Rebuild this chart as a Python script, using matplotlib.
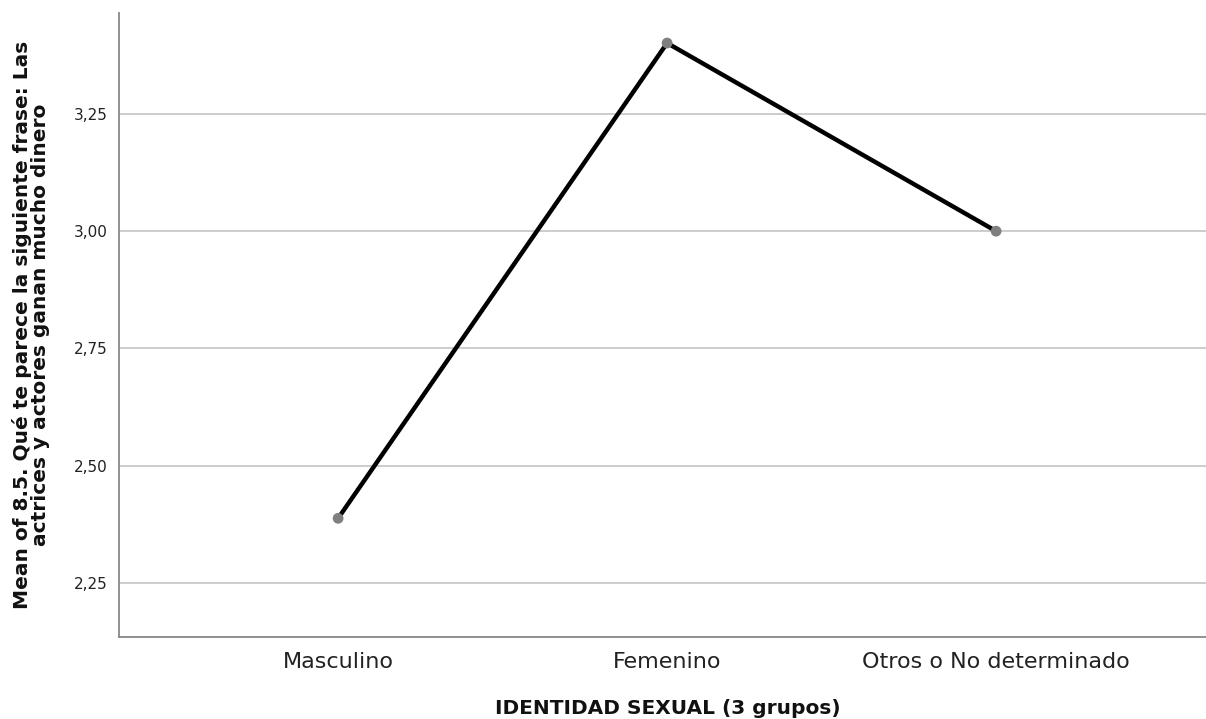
import matplotlib
matplotlib.use("Agg")
import matplotlib.pyplot as plt

categories = ["Masculino", "Femenino", "Otros o No determinado"]
means = [2.388, 3.401, 3.00]
yticks = [2.25, 2.50, 2.75, 3.00, 3.25]
ytick_labels = ["2,25", "2,50", "2,75", "3,00", "3,25"]

plt.rcParams['font.family'] = ['DejaVu Sans']

fig = plt.figure(figsize=(12.06, 7.19), dpi=100)
W, H = 1206, 719
left, right, top, bottom = 119, 1206, 13, 637
ax = fig.add_axes([left / W, 1 - bottom / H, (right - left) / W, (bottom - top) / H])

x = list(range(len(categories)))
ax.plot(x, means, color="black", lw=3.2, zorder=3, solid_capstyle="round")
ax.scatter(x, means, s=60, color="#7f7f7f", zorder=4, edgecolors="none")

ax.set_xlim(-0.666, 2.638)
ax.set_ylim(2.135, 3.465)
ax.set_yticks(yticks)
ax.set_yticklabels(ytick_labels, fontsize=11, color="#222222")
ax.set_xticks(x)
ax.set_xticklabels(categories, fontsize=16, color="#222222")
ax.tick_params(axis="both", length=0)
ax.tick_params(axis="y", pad=8)
ax.tick_params(axis="x", pad=11)
ax.grid(axis="y", color="#c8c8c8", lw=1.3, zorder=0)
ax.set_axisbelow(True)
for s in ["top", "right"]:
    ax.spines[s].set_visible(False)
for s in ["left", "bottom"]:
    ax.spines[s].set_color("#888888")
    ax.spines[s].set_linewidth(1.3)

fig.text(668 / W, 1 - 708 / H, "IDENTIDAD SEXUAL (3 grupos)", ha="center", va="center",
         fontsize=14.5, fontweight="bold", color="#111111")
fig.text(31 / W, 1 - 325 / H,
         "Mean of 8.5. Qué te parece la siguiente frase: Las\nactrices y actores ganan mucho dinero",
         ha="center", va="center", rotation=90, fontsize=14.5, fontweight="bold",
         color="#111111", linespacing=0.95)

fig.savefig("out.png", dpi=100)
